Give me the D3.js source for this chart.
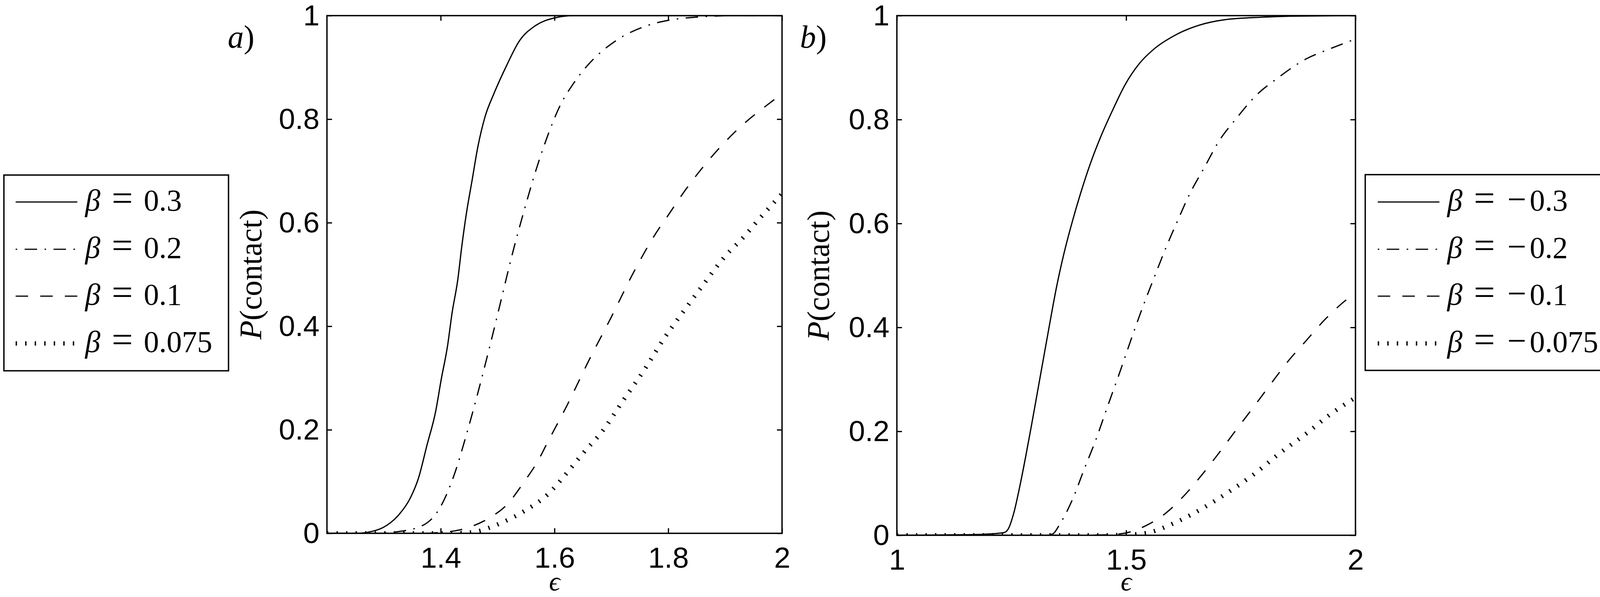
<!DOCTYPE html>
<html>
<head>
<meta charset="utf-8">
<script src="https://cdn.jsdelivr.net/npm/d3@7"></script>
<style>
  body { margin: 0; background: #fff; }
  svg { display: block; }
</style>
</head>
<body>
<svg id="fig" width="4150" height="1528"></svg>
<script>
// values: [epsilon, P(contact)]
const epsTicksA = [1.4, 1.6, 1.8, 2];
const epsTicksB = [1, 1.5, 2];
const pTicks = [0, 0.2, 0.4, 0.6, 0.8, 1];
const betaA = [0.3, 0.2, 0.1, 0.075];
const betaB = [-0.3, -0.2, -0.1, -0.075];

// panel a), beta > 0
const a_b300 = [[1.2,0],[1.25,0],[1.28,0.004],[1.30,0.012],[1.328,0.038],[1.345,0.065],[1.361,0.107],
  [1.376,0.171],[1.391,0.235],[1.401,0.298],[1.412,0.362],[1.420,0.426],[1.430,0.49],[1.437,0.554],
  [1.445,0.617],[1.455,0.681],[1.465,0.745],[1.478,0.805],[1.493,0.848],[1.516,0.904],[1.537,0.949],
  [1.567,0.981],[1.598,0.995],[1.634,1.0],[2.0,1.0]];
const a_b200 = [[1.2,0],[1.28,0],[1.33,0.004],[1.373,0.018],[1.399,0.05],[1.424,0.114],[1.445,0.19],
  [1.465,0.27],[1.486,0.36],[1.506,0.45],[1.526,0.54],[1.547,0.625],[1.567,0.70],[1.588,0.768],
  [1.608,0.822],[1.634,0.87],[1.659,0.905],[1.710,0.953],[1.761,0.98],[1.812,0.993],[1.863,0.998],
  [1.914,1.0],[2.0,1.0]];
const a_b100 = [[1.2,0],[1.36,0],[1.404,0.002],[1.445,0.01],[1.486,0.03],[1.516,0.055],[1.547,0.1],
  [1.572,0.142],[1.587,0.174],[1.622,0.247],[1.66,0.333],[1.70,0.418],[1.739,0.504],[1.782,0.586],
  [1.794,0.605],[1.832,0.666],[1.916,0.774],[1.983,0.835],[2.0,0.849]];
const a_b075 = [[1.2,0],[1.40,0],[1.445,0.001],[1.465,0.004],[1.506,0.02],[1.547,0.043],[1.588,0.075],
  [1.628,0.125],[1.652,0.157],[1.684,0.197],[1.721,0.257],[1.758,0.316],[1.793,0.377],[1.821,0.42],
  [1.860,0.478],[1.899,0.534],[1.934,0.574],[1.955,0.601],[2.0,0.656]];

// panel b), beta < 0
const b_b300 = [[1.0,0],[1.147,0.001],[1.19,0.002],[1.233,0.005],[1.242,0.011],[1.255,0.043],[1.268,0.094],
  [1.281,0.152],[1.293,0.209],[1.306,0.273],[1.319,0.337],[1.332,0.401],[1.348,0.477],[1.364,0.541],
  [1.383,0.605],[1.402,0.662],[1.421,0.713],[1.446,0.770],[1.472,0.821],[1.497,0.866],[1.529,0.908],
  [1.561,0.936],[1.606,0.962],[1.657,0.981],[1.714,0.992],[1.797,0.997],[1.861,0.999],[2.0,1.0]];
const b_b200 = [[1.0,0],[1.30,0],[1.338,0.002],[1.357,0.024],[1.383,0.069],[1.408,0.126],[1.434,0.184],
  [1.459,0.247],[1.485,0.311],[1.510,0.375],[1.536,0.439],[1.561,0.496],[1.587,0.554],[1.612,0.605],
  [1.638,0.656],[1.670,0.707],[1.702,0.758],[1.740,0.802],[1.784,0.847],[1.829,0.879],[1.893,0.917],
  [1.944,0.936],[2.0,0.955]];
const b_b100 = [[1.0,0],[1.40,0],[1.46,0.001],[1.497,0.004],[1.542,0.018],[1.587,0.043],[1.625,0.075],
  [1.663,0.114],[1.702,0.158],[1.740,0.203],[1.778,0.247],[1.816,0.292],[1.855,0.337],[1.893,0.375],
  [1.931,0.413],[1.969,0.445],[2.0,0.467]];
const b_b075 = [[1.0,0],[1.45,0],[1.50,0.001],[1.548,0.005],[1.606,0.024],[1.663,0.05],[1.721,0.082],
  [1.778,0.117],[1.835,0.158],[1.893,0.196],[1.944,0.232],[2.0,0.265]];

// line styles: solid, dash-dot, dashed, dotted (matlab look)
const styles = [
  {dash: null, offset: 0, width: 3.2},
  {dash: "32,19,4,19", offset: 51, width: 3.2},
  {dash: "32,31", offset: 0, width: 3.2},
  {dash: "3.5,20.9", offset: 0, width: 11}
];

const svg = d3.select("#fig");
svg.append("rect").attr("width", 4150).attr("height", 1528).attr("fill", "#fff");

const tickFont = "'Liberation Sans', Arial, Helvetica, sans-serif";
const mathFont = "'Liberation Serif', 'Times New Roman', 'DejaVu Serif', serif";

function fmtBeta(b) {
  return b < 0 ? ["\u2212", String(-b)] : [null, String(b)];
}

function drawPanel(p) {
  const x = d3.scaleLinear().domain(p.xDomain).range([p.left, p.right]);
  const y = d3.scaleLinear().domain([0, 1]).range([p.bottom, p.top]);
  const w = p.right - p.left, h = p.bottom - p.top;

  // clip
  svg.append("clipPath").attr("id", "clip" + p.id)
    .append("rect").attr("x", p.left).attr("y", p.top).attr("width", w).attr("height", h);

  // curves
  const line = d3.line().x(d => x(d[0])).y(d => y(d[1])).curve(d3.curveMonotoneX);
  const gc = svg.append("g").attr("clip-path", "url(#clip" + p.id + ")");
  p.series.forEach((s, i) => {
    const st = styles[i];
    gc.append("path").datum(s)
      .attr("d", line)
      .attr("fill", "none")
      .attr("stroke", "#000")
      .attr("stroke-width", st.width)
      .attr("stroke-dasharray", st.dash)
      .attr("stroke-dashoffset", st.offset);
  });

  // axes with inward ticks on all four sides
  const tk = 13;
  const gx = svg.append("g").attr("transform", "translate(0," + p.bottom + ")")
    .call(d3.axisBottom(x).tickValues(p.xTicks).tickSize(-tk).tickPadding(35).tickFormat(d3.format("")));
  const gy = svg.append("g").attr("transform", "translate(" + p.left + ",0)")
    .call(d3.axisLeft(y).tickValues(pTicks).tickSize(-tk).tickPadding(19).tickFormat(d3.format("")));
  svg.append("g").attr("transform", "translate(0," + p.top + ")")
    .call(d3.axisTop(x).tickValues(p.xTicks).tickSize(-tk).tickFormat(""));
  svg.append("g").attr("transform", "translate(" + p.right + ",0)")
    .call(d3.axisRight(y).tickValues(pTicks).tickSize(-tk).tickFormat(""));
  svg.selectAll(".domain").remove();
  svg.selectAll(".tick line").attr("stroke", "#000").attr("stroke-width", 3.2);
  [gx, gy].forEach(g => g.selectAll("text")
    .attr("font-family", tickFont).attr("font-size", 75).attr("fill", "#000"));

  // box
  svg.append("rect").attr("x", p.left).attr("y", p.top).attr("width", w).attr("height", h)
    .attr("fill", "none").attr("stroke", "#000").attr("stroke-width", 3.5);

  // x label
  svg.append("text").attr("x", (p.left + p.right) / 2).attr("y", 1511)
    .attr("text-anchor", "middle").attr("font-family", mathFont).attr("font-size", 70)
    .attr("font-style", "italic").text("\u03F5");

  // y label
  const yl = svg.append("text")
    .attr("transform", "translate(" + p.ylabelX + "," + ((p.top + p.bottom) / 2) + ") rotate(-90)")
    .attr("text-anchor", "middle").attr("font-family", mathFont).attr("font-size", 80);
  yl.append("tspan").attr("font-style", "italic").text("P");
  yl.append("tspan").text("(contact)");

  // panel tag
  const tg = svg.append("text").attr("x", p.tagX).attr("y", 122)
    .attr("font-family", mathFont).attr("font-size", 82);
  tg.append("tspan").attr("font-style", "italic").text(p.tag);
  tg.append("tspan").text(")");

  // legend
  const L = p.legend;
  svg.append("rect").attr("x", L.x).attr("y", L.y).attr("width", L.w).attr("height", L.h)
    .attr("fill", "#fff").attr("stroke", "#000").attr("stroke-width", 3.5);
  const rowY = [517, 638, 758, 879];
  p.betas.forEach((b, i) => {
    const st = styles[i];
    const ry = rowY[i];
    svg.append("line")
      .attr("x1", L.sx).attr("x2", L.sx + 158).attr("y1", ry).attr("y2", ry)
      .attr("stroke", "#000").attr("stroke-width", st.width)
      .attr("stroke-dasharray", st.dash).attr("stroke-dashoffset", st.offset);
    const tx = L.sx + 178;
    const t = svg.append("text").attr("y", ry + 22)
      .attr("font-family", mathFont).attr("font-size", 78).attr("fill", "#000");
    t.append("tspan").attr("x", tx).attr("font-style", "italic").text("\u03B2");
    t.append("tspan").attr("x", tx + 68).attr("font-size", 96).text("=");
    const parts = fmtBeta(b);
    if (parts[0]) {
      t.append("tspan").attr("x", tx + 154).attr("font-size", 86).text(parts[0]);
      t.append("tspan").attr("x", tx + 211).text(parts[1]);
    } else {
      t.append("tspan").attr("x", tx + 150).text(parts[1]);
    }
  });
}

drawPanel({
  id: "a", left: 837, right: 2002, top: 40, bottom: 1365,
  xDomain: [1.2, 2], xTicks: epsTicksA,
  series: [a_b300, a_b200, a_b100, a_b075], betas: betaA,
  ylabelX: 669, tag: "a", tagX: 583,
  legend: {x: 10, y: 448, w: 575, h: 501, sx: 40}
});

drawPanel({
  id: "b", left: 2296, right: 3470, top: 40, bottom: 1370,
  xDomain: [1, 2], xTicks: epsTicksB,
  series: [b_b300, b_b200, b_b100, b_b075], betas: betaB,
  ylabelX: 2122, tag: "b", tagX: 2048,
  legend: {x: 3495, y: 447, w: 638, h: 501, sx: 3527}
});
</script>
</body>
</html>
